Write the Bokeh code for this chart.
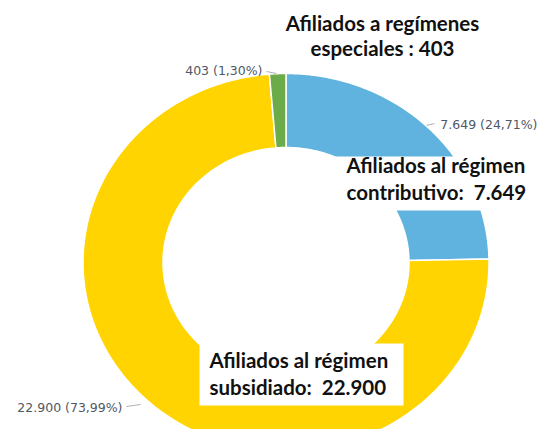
import numpy as np
from bokeh.plotting import figure
from bokeh.models import Range1d
from bokeh.core.properties import value
from bokeh.embed import file_html
from bokeh.resources import INLINE

# ---- data ----
categories = ["Afiliados al régimen contributivo", "Afiliados al régimen subsidiado", "Afiliados a regímenes especiales"]
counts = [7649, 22900, 403]
colors = ["#5fb3de", "#ffd400", "#6cab4a"]
big_labels = [["Afiliados al régimen", "contributivo:\u00a0 7.649"],
              ["Afiliados al régimen", "subsidiado:\u00a0 22.900"],
              ["Afiliados a regímenes", "especiales : 403"]]

def es_num(n):
    return f"{n:,}".replace(",", ".")

total = sum(counts)
pcts = [c / total * 100 for c in counts]
small_labels = [f"{es_num(c)} ({f'{p:.2f}'.replace('.', ',')}%)" for c, p in zip(counts, pcts)]

# ---- layout (reference pixel coordinates) ----
W, H = 540, 429
cx, cy = 285.5, 262.0
rx_out, ry_out = 203.0, 189.0
rx_in, ry_in = 123.0, 115.0

p = figure(width=W, height=H, output_backend="svg", toolbar_location=None,
           x_range=Range1d(0, W), y_range=Range1d(H, 0),
           min_border=0)
p.axis.visible = False
p.grid.visible = False
p.outline_line_color = None
p.background_fill_color = "white"
p.border_fill_color = "white"

# donut slices (clockwise from the top), elliptical
cum = np.concatenate([[0], np.cumsum(counts)]) / total * 2 * np.pi
xs, ys = [], []
for a, b in zip(cum[:-1], cum[1:]):
    t = np.linspace(a, b, 200)
    ox = cx + rx_out * np.sin(t); oy = cy - ry_out * np.cos(t)
    ix = cx + rx_in * np.sin(t[::-1]); iy = cy - ry_in * np.cos(t[::-1])
    xs.append(np.concatenate([ox, ix]).tolist())
    ys.append(np.concatenate([oy, iy]).tolist())
p.patches(xs, ys, fill_color=colors, line_color="white", line_width=1.5)

# white label boxes
p.quad(left=[332, 199], right=[548, 403], top=[156, 343], bottom=[210, 405],
       fill_color="white", line_color=None)

bold_font = value("Lato")
lab_size = "20.5px"
# contributivo
p.text(x=[346, 346], y=[164, 191], text=big_labels[0], text_font=bold_font,
       text_font_style="bold", text_font_size=lab_size, text_color="#111111",
       text_baseline="middle", text_align="left")
# subsidiado
p.text(x=[209, 209], y=[359, 386], text=big_labels[1], text_font=bold_font,
       text_font_style="bold", text_font_size=lab_size, text_color="#111111",
       text_baseline="middle", text_align="left")
# especiales
p.text(x=[382, 382], y=[22, 47], text=big_labels[2], text_font=bold_font,
       text_font_style="bold", text_font_size=lab_size, text_color="#111111",
       text_baseline="middle", text_align="center")

# small value labels with leader lines
sm_font = value("DejaVu Sans")
sm_size = "12.5px"
p.text(x=[537], y=[124], text=[small_labels[0]], text_font=sm_font, text_font_size=sm_size,
       text_color="#505866", text_baseline="middle", text_align="right")
p.text(x=[122], y=[407], text=[small_labels[1]], text_font=sm_font, text_font_size=sm_size,
       text_color="#505866", text_baseline="middle", text_align="right")
p.text(x=[262], y=[70], text=[small_labels[2]], text_font=sm_font, text_font_size=sm_size,
       text_color="#505866", text_baseline="middle", text_align="right")
p.segment(x0=[426, 126, 266], y0=[125, 406, 71], x1=[434, 140, 276], y1=[123, 404, 73],
          line_color="#b0b0b0", line_width=1)

open("out.html", "w").write(file_html(p, INLINE))
